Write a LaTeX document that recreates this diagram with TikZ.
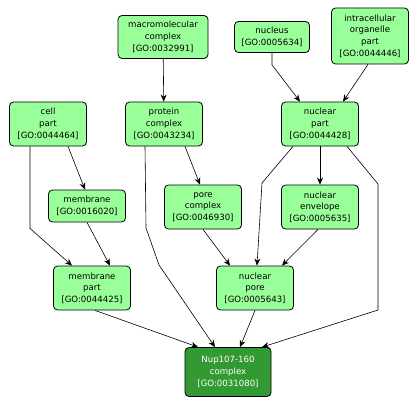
\documentclass[tikz,border=0pt]{standalone}
\usepackage{fontspec}
\setmainfont{DejaVu Sans}
\usetikzlibrary{arrows.meta}

\begin{document}
\begin{tikzpicture}[
  x=1pt, y=-1pt,
  term/.style={rectangle,rounded corners=4pt,draw,line width=0.8pt,fill=termgreen,align=center,
    font=\fontsize{8.6}{11.7}\selectfont,inner sep=2pt,minimum width=77pt,minimum height=44pt},
  twoline/.style={term,minimum height=32pt},
  focus/.style={term,fill=focusgreen,text=white,minimum width=86pt,minimum height=49pt},
  arrow/.style={-{Stealth[length=7pt,width=6pt]},line width=0.6pt}
]
\definecolor{termgreen}{HTML}{99FF99}
\definecolor{focusgreen}{HTML}{339933}
\useasboundingbox (0,0) rectangle (420,409);

% ===== Top row =====
\node[term,minimum width=90pt,minimum height=43pt] (macro_cx) at (163,37) {macromolecular\\complex\\{[GO:0032991]}};
\node[twoline,minimum width=75pt,minimum height=31pt] (nucleus) at (272,37) {nucleus\\{[GO:0005634]}};
\node[term,minimum height=56pt] (intra_org) at (370,36) {intracellular\\organelle\\part\\{[GO:0044446]}};

% ===== Second row =====
\node[term] (cell_part) at (48,124) {cell\\part\\{[GO:0044464]}};
\node[term] (prot_cx) at (164,124) {protein\\complex\\{[GO:0043234]}};
\node[term] (nuc_part) at (320,124) {nuclear\\part\\{[GO:0044428]}};

% ===== Third row =====
\node[twoline] (membrane) at (87,206) {membrane\\{[GO:0016020]}};
\node[term] (pore_cx) at (203,207) {pore\\complex\\{[GO:0046930]}};
\node[term] (nuc_env) at (320,207) {nuclear\\envelope\\{[GO:0005635]}};

% ===== Fourth row =====
\node[term] (mem_part) at (92,288) {membrane\\part\\{[GO:0044425]}};
\node[term] (nuc_pore) at (255,288) {nuclear\\pore\\{[GO:0005643]}};

% Target term
\node[focus] (nup) at (228,372) {Nup107-160\\complex\\{[GO:0031080]}};

% Edges from the top row
\draw[arrow] (macro_cx) -- (prot_cx);
\draw[arrow] (nucleus.south) -- ++(0,12) -- ([xshift=-20pt]nuc_part.north);
\draw[arrow] ([xshift=-2pt]intra_org.south) -- ([xshift=23pt]nuc_part.north);

% Edges from the second row
\draw[arrow] ([xshift=20pt]cell_part.south) -- ([xshift=-2pt]membrane.north);
\draw[arrow] ([xshift=-18pt]cell_part.south) -- ++(0,82) -- ([xshift=-20pt]mem_part.north);
\draw[arrow] ([xshift=21pt]prot_cx.south) -- ([xshift=-3pt]pore_cx.north);
\draw[arrow] ([xshift=-19pt]prot_cx.south) -- (146,228) -- (159,265) -- ([xshift=-13pt]nup.north);
\draw[arrow] (nuc_part) -- (nuc_env);
\draw[arrow] ([xshift=-27pt]nuc_part.south) -- (262,183) -- ([xshift=2pt]nuc_pore.north);
\draw[arrow] ([xshift=27pt]nuc_part.south) -- (378,184) -- (378,310) -- ([xshift=34pt]nup.north);

% Edges from the third row
\draw[arrow] (membrane.south) -- ([xshift=18pt]mem_part.north);
\draw[arrow] (pore_cx.south) -- ([xshift=-25pt]nuc_pore.north);
\draw[arrow] ([xshift=-2pt]nuc_env.south) -- ([xshift=27pt]nuc_pore.north);

% Edges into the target
\draw[arrow] ([xshift=3pt]mem_part.south) -- ([xshift=-30pt]nup.north);
\draw[arrow] (nuc_pore.south) -- ([xshift=12pt]nup.north);

\end{tikzpicture}
\end{document}
